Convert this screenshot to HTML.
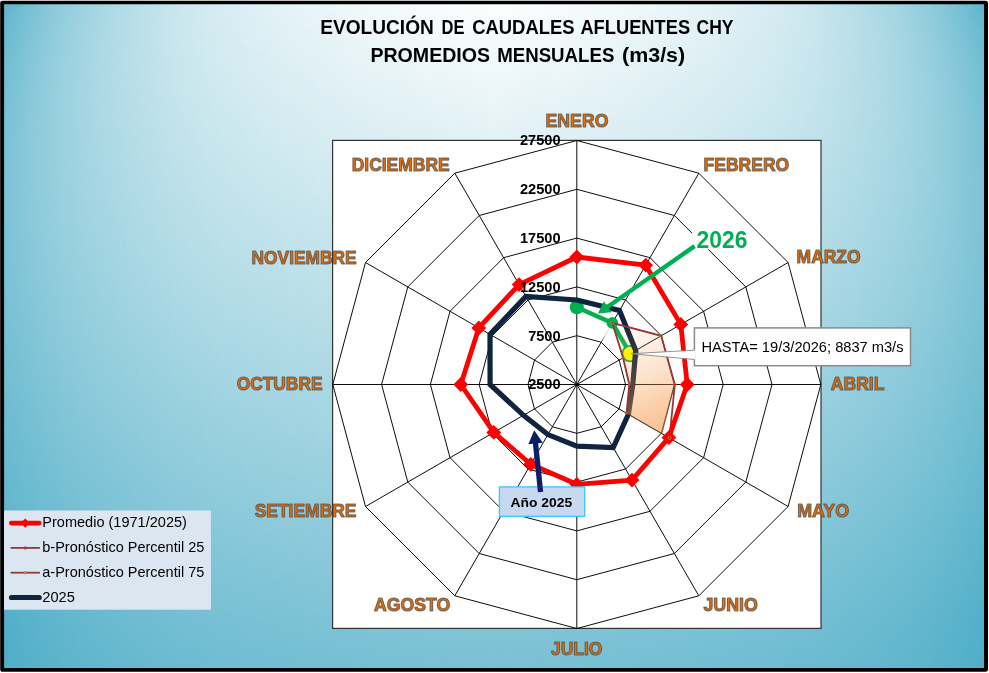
<!DOCTYPE html>
<html lang="es"><head><meta charset="utf-8"><title>Evolución de caudales afluentes CHY</title>
<style>
html,body{margin:0;padding:0;background:#fff}
body{width:989px;height:673px;overflow:hidden;position:relative;font-family:"Liberation Sans",sans-serif}
#b1,#b2{position:absolute;left:2px;top:2px;width:984px;height:668px}
#b1{background:linear-gradient(to bottom,#fff 0px,rgb(196,228,236) 300px,rgb(121,193,213) 673px);background-position:-2px -2px;background-size:989px 673px;background-repeat:no-repeat}
#b2{background:linear-gradient(to right,rgba(75,172,198,0.933) 0.0px,rgba(75,172,198,0.899) 6.2px,rgba(75,172,198,0.892) 7.4px,rgba(75,172,198,0.864) 12.4px,rgba(75,172,198,0.830) 18.5px,rgba(75,172,198,0.797) 24.7px,rgba(75,172,198,0.734) 37.1px,rgba(75,172,198,0.674) 49.4px,rgba(75,172,198,0.622) 61.8px,rgba(75,172,198,0.577) 74.2px,rgba(75,172,198,0.535) 86.5px,rgba(75,172,198,0.496) 98.9px,rgba(75,172,198,0.460) 111.3px,rgba(75,172,198,0.426) 123.6px,rgba(75,172,198,0.394) 136.0px,rgba(75,172,198,0.363) 148.4px,rgba(75,172,198,0.333) 160.7px,rgba(75,172,198,0.306) 173.1px,rgba(75,172,198,0.281) 185.4px,rgba(75,172,198,0.259) 197.8px,rgba(75,172,198,0.239) 210.2px,rgba(75,172,198,0.220) 222.5px,rgba(75,172,198,0.203) 234.9px,rgba(75,172,198,0.187) 247.2px,rgba(75,172,198,0.173) 259.6px,rgba(75,172,198,0.159) 272.0px,rgba(75,172,198,0.147) 284.3px,rgba(75,172,198,0.136) 296.7px,rgba(75,172,198,0.125) 309.1px,rgba(75,172,198,0.114) 321.4px,rgba(75,172,198,0.104) 333.8px,rgba(75,172,198,0.094) 346.1px,rgba(75,172,198,0.084) 358.5px,rgba(75,172,198,0.075) 370.9px,rgba(75,172,198,0.066) 383.2px,rgba(75,172,198,0.059) 395.6px,rgba(75,172,198,0.051) 408.0px,rgba(75,172,198,0.044) 420.3px,rgba(75,172,198,0.038) 432.7px,rgba(75,172,198,0.032) 445.1px,rgba(75,172,198,0.026) 457.4px,rgba(75,172,198,0.020) 469.8px,rgba(75,172,198,0.015) 482.1px,rgba(75,172,198,0.011) 494.5px,rgba(75,172,198,0.015) 506.9px,rgba(75,172,198,0.020) 519.2px,rgba(75,172,198,0.026) 531.6px,rgba(75,172,198,0.032) 544.0px,rgba(75,172,198,0.038) 556.3px,rgba(75,172,198,0.044) 568.7px,rgba(75,172,198,0.051) 581.0px,rgba(75,172,198,0.059) 593.4px,rgba(75,172,198,0.066) 605.8px,rgba(75,172,198,0.075) 618.1px,rgba(75,172,198,0.084) 630.5px,rgba(75,172,198,0.094) 642.9px,rgba(75,172,198,0.104) 655.2px,rgba(75,172,198,0.114) 667.6px,rgba(75,172,198,0.125) 679.9px,rgba(75,172,198,0.136) 692.3px,rgba(75,172,198,0.147) 704.7px,rgba(75,172,198,0.159) 717.0px,rgba(75,172,198,0.173) 729.4px,rgba(75,172,198,0.187) 741.8px,rgba(75,172,198,0.203) 754.1px,rgba(75,172,198,0.220) 766.5px,rgba(75,172,198,0.239) 778.8px,rgba(75,172,198,0.259) 791.2px,rgba(75,172,198,0.281) 803.6px,rgba(75,172,198,0.306) 815.9px,rgba(75,172,198,0.333) 828.3px,rgba(75,172,198,0.363) 840.6px,rgba(75,172,198,0.394) 853.0px,rgba(75,172,198,0.426) 865.4px,rgba(75,172,198,0.460) 877.7px,rgba(75,172,198,0.496) 890.1px,rgba(75,172,198,0.535) 902.5px,rgba(75,172,198,0.577) 914.8px,rgba(75,172,198,0.622) 927.2px,rgba(75,172,198,0.674) 939.5px,rgba(75,172,198,0.734) 951.9px,rgba(75,172,198,0.797) 964.3px,rgba(75,172,198,0.830) 970.5px,rgba(75,172,198,0.864) 976.6px,rgba(75,172,198,0.892) 981.6px,rgba(75,172,198,0.899) 982.8px,rgba(75,172,198,0.933) 989.0px);background-position:-2px 0;background-size:989px 100%;background-repeat:no-repeat;-webkit-mask-image:linear-gradient(to bottom,rgba(0,0,0,1.000) 0px,rgba(0,0,0,0.940) 24px,rgba(0,0,0,0.890) 48px,rgba(0,0,0,0.849) 72px,rgba(0,0,0,0.815) 96px,rgba(0,0,0,0.786) 120px,rgba(0,0,0,0.763) 144px,rgba(0,0,0,0.743) 168px,rgba(0,0,0,0.726) 192px,rgba(0,0,0,0.713) 216px,rgba(0,0,0,0.703) 240px,rgba(0,0,0,0.697) 264px,rgba(0,0,0,0.695) 288px,rgba(0,0,0,0.695) 312px,rgba(0,0,0,0.698) 336px,rgba(0,0,0,0.703) 360px,rgba(0,0,0,0.710) 384px,rgba(0,0,0,0.720) 408px,rgba(0,0,0,0.732) 432px,rgba(0,0,0,0.747) 456px,rgba(0,0,0,0.766) 480px,rgba(0,0,0,0.788) 504px,rgba(0,0,0,0.814) 528px,rgba(0,0,0,0.845) 552px,rgba(0,0,0,0.881) 576px,rgba(0,0,0,0.924) 600px,rgba(0,0,0,0.976) 624px,rgba(0,0,0,1.000) 648px,rgba(0,0,0,1.000) 672px,rgba(0,0,0,1.000) 673px);mask-image:linear-gradient(to bottom,rgba(0,0,0,1.000) 0px,rgba(0,0,0,0.940) 24px,rgba(0,0,0,0.890) 48px,rgba(0,0,0,0.849) 72px,rgba(0,0,0,0.815) 96px,rgba(0,0,0,0.786) 120px,rgba(0,0,0,0.763) 144px,rgba(0,0,0,0.743) 168px,rgba(0,0,0,0.726) 192px,rgba(0,0,0,0.713) 216px,rgba(0,0,0,0.703) 240px,rgba(0,0,0,0.697) 264px,rgba(0,0,0,0.695) 288px,rgba(0,0,0,0.695) 312px,rgba(0,0,0,0.698) 336px,rgba(0,0,0,0.703) 360px,rgba(0,0,0,0.710) 384px,rgba(0,0,0,0.720) 408px,rgba(0,0,0,0.732) 432px,rgba(0,0,0,0.747) 456px,rgba(0,0,0,0.766) 480px,rgba(0,0,0,0.788) 504px,rgba(0,0,0,0.814) 528px,rgba(0,0,0,0.845) 552px,rgba(0,0,0,0.881) 576px,rgba(0,0,0,0.924) 600px,rgba(0,0,0,0.976) 624px,rgba(0,0,0,1.000) 648px,rgba(0,0,0,1.000) 672px,rgba(0,0,0,1.000) 673px);-webkit-mask-position:0 -2px;mask-position:0 -2px;-webkit-mask-size:100% 673px;mask-size:100% 673px;-webkit-mask-repeat:no-repeat;mask-repeat:no-repeat}
svg{position:absolute;left:0;top:0}
text{font-family:"Liberation Sans",sans-serif}
.ax{font-size:14.6px;font-weight:bold;fill:#000}
.cat{font-size:18.7px;font-weight:bold;fill:#E8700A;stroke:#4a4644;stroke-opacity:.72;stroke-width:1.15px;stroke-linejoin:round}
.ttl{font-size:20.2px;font-weight:bold;fill:#000}
.t26{font-size:24px;font-weight:bold;fill:#00B050}
.a25{font-size:13.4px;font-weight:bold;fill:#000}
.co{font-size:14.6px;fill:#000}
.lg{font-size:14.6px;fill:#000}
</style></head><body>
<div id="b1"></div><div id="b2"></div>
<svg width="989" height="673" viewBox="0 0 989 673">
<path fill-rule="evenodd" fill="#000" d="M2.8 0.8 H985.6 Q988 0.8 988 3.2 V669.4 Q988 671.8 985.6 671.8 H2.8 Q0.2 671.8 0.2 669.4 V3.2 Q0.2 0.8 2.8 0.8 Z M4.1 4.2 V668 H984 V4.2 Z"/>
<rect x="332.6" y="140.4" width="488.4" height="488" fill="#fff" stroke="#333" stroke-width="1.2"/>
<path d="M576.8 335.7 L601.2 342.2 L619.1 360.1 L625.6 384.5 L619.1 408.9 L601.2 426.8 L576.8 433.3 L552.4 426.8 L534.5 408.9 L528.0 384.5 L534.5 360.1 L552.4 342.2 Z M576.8 286.9 L625.6 300.0 L661.3 335.7 L674.4 384.5 L661.3 433.3 L625.6 469.0 L576.8 482.1 L528.0 469.0 L492.3 433.3 L479.2 384.5 L492.3 335.7 L528.0 300.0 Z M576.8 238.1 L650.0 257.7 L703.6 311.3 L723.2 384.5 L703.6 457.7 L650.0 511.3 L576.8 530.9 L503.6 511.3 L450.0 457.7 L430.4 384.5 L450.0 311.3 L503.6 257.7 Z M576.8 189.3 L674.4 215.5 L745.8 286.9 L772.0 384.5 L745.8 482.1 L674.4 553.5 L576.8 579.7 L479.2 553.5 L407.8 482.1 L381.6 384.5 L407.8 286.9 L479.2 215.5 Z M576.8 140.5 L698.8 173.2 L788.1 262.5 L820.8 384.5 L788.1 506.5 L698.8 595.8 L576.8 628.5 L454.8 595.8 L365.5 506.5 L332.8 384.5 L365.5 262.5 L454.8 173.2 Z M576.8 384.5 L576.8 140.5 M576.8 384.5 L698.8 173.2 M576.8 384.5 L788.1 262.5 M576.8 384.5 L820.8 384.5 M576.8 384.5 L788.1 506.5 M576.8 384.5 L698.8 595.8 M576.8 384.5 L576.8 628.5 M576.8 384.5 L454.8 595.8 M576.8 384.5 L365.5 506.5 M576.8 384.5 L332.8 384.5 M576.8 384.5 L365.5 262.5 M576.8 384.5 L454.8 173.2" fill="none" stroke="#000" stroke-width=".95"/>
<defs><linearGradient id="wg" gradientUnits="userSpaceOnUse" x1="598" y1="314" x2="588" y2="340"><stop offset="0" stop-color="#fff" stop-opacity=".92"/><stop offset=".6" stop-color="#fff" stop-opacity=".8"/><stop offset="1" stop-color="#fff" stop-opacity="0"/></linearGradient></defs>
<path d="M579 308 L612 323 L621 352 L604 343 L583 336 Z" fill="url(#wg)"/>
<path d="M576.8 307.2 L612.3 322.9 L630.1 353.7" fill="none" stroke="#00B050" stroke-width="4.4" stroke-linejoin="round" stroke-linecap="round"/>
<circle cx="576.8" cy="307.2" r="7" fill="#00B050"/>
<circle cx="612.3" cy="322.9" r="5.8" fill="#00B050"/>
<circle cx="630.1" cy="353.7" r="7.75" fill="#FFFF00" stroke="#00B050" stroke-width="1.8"/>
<path d="M576.8 300.0 L619.5 310.5 L635.7 350.5 L632.8 384.5 L628.4 414.3 L613.2 447.5 L576.8 446.2 L547.9 434.6 L523.5 415.3 L490.1 384.5 L490.0 334.4 L525.9 296.4 Z" fill="none" stroke="#0F243E" stroke-width="5.2" stroke-linejoin="miter"/>
<defs><linearGradient id="og" gradientUnits="userSpaceOnUse" x1="612" y1="323" x2="665" y2="435"><stop offset="0" stop-color="#F79646" stop-opacity="0"/><stop offset=".5" stop-color="#F79646" stop-opacity=".27"/><stop offset=".75" stop-color="#F79646" stop-opacity=".46"/><stop offset="1" stop-color="#F79646" stop-opacity=".62"/></linearGradient></defs>
<path d="M612.3 322.9 L661.2 335.8 L674.8 384.5 L661.9 433.6 L626.6 413.2 L629.3 384.5 L623.1 357.8 Z" fill="url(#og)" stroke="#5a4030" stroke-width=".6"/>
<path d="M612.3 322.9 L661.2 335.8 L674.8 384.5 L669.5 438.0" fill="none" stroke="#953735" stroke-width="1.8"/>
<path d="M612.3 322.9 L623.1 357.8 L629.3 384.5 L626.6 413.2" fill="none" stroke="#953735" stroke-width="1.8"/>
<path d="M576.8 257.0 L645.7 265.2 L680.8 324.4 L687.2 384.5 L668.9 437.6 L632.0 480.1 L576.8 484.3 L530.7 464.3 L493.8 432.4 L460.8 384.5 L478.8 327.9 L519.1 284.6 Z" fill="none" stroke="#FF0000" stroke-width="4.8" stroke-linejoin="round"/>
<path d="M576.8 249.6 l7.4 7.4 l-7.4 7.4 l-7.4 -7.4 Z M645.7 257.8 l7.4 7.4 l-7.4 7.4 l-7.4 -7.4 Z M680.8 317.1 l7.4 7.4 l-7.4 7.4 l-7.4 -7.4 Z M687.2 377.1 l7.4 7.4 l-7.4 7.4 l-7.4 -7.4 Z M668.9 430.2 l7.4 7.4 l-7.4 7.4 l-7.4 -7.4 Z M632.0 472.7 l7.4 7.4 l-7.4 7.4 l-7.4 -7.4 Z M576.8 476.9 l7.4 7.4 l-7.4 7.4 l-7.4 -7.4 Z M530.7 456.9 l7.4 7.4 l-7.4 7.4 l-7.4 -7.4 Z M493.8 425.0 l7.4 7.4 l-7.4 7.4 l-7.4 -7.4 Z M460.8 377.1 l7.4 7.4 l-7.4 7.4 l-7.4 -7.4 Z M478.8 320.5 l7.4 7.4 l-7.4 7.4 l-7.4 -7.4 Z M519.1 277.2 l7.4 7.4 l-7.4 7.4 l-7.4 -7.4 Z" fill="#FF0000"/>
<circle cx="612.3" cy="322.9" r="1.4" fill="#D00000" stroke="#8DB04A" stroke-width=".8"/>
<circle cx="661.2" cy="335.8" r="1.4" fill="#D00000" stroke="#8DB04A" stroke-width=".8"/>
<circle cx="674.8" cy="384.5" r="1.4" fill="#D00000" stroke="#8DB04A" stroke-width=".8"/>
<circle cx="669.5" cy="438.0" r="1.4" fill="#D00000" stroke="#8DB04A" stroke-width=".8"/>
<circle cx="623.1" cy="357.8" r="1.3" fill="#C0504D"/>
<circle cx="629.3" cy="384.5" r="1.3" fill="#C0504D"/>
<circle cx="626.6" cy="413.2" r="1.3" fill="#C0504D"/>
<text x="560.6" y="389.4" text-anchor="end" class="ax">2500</text>
<text x="560.6" y="340.6" text-anchor="end" class="ax">7500</text>
<text x="560.6" y="291.8" text-anchor="end" class="ax">12500</text>
<text x="560.6" y="243.0" text-anchor="end" class="ax">17500</text>
<text x="560.6" y="194.2" text-anchor="end" class="ax">22500</text>
<text x="560.6" y="145.4" text-anchor="end" class="ax">27500</text>
<rect x="692" y="228" width="58" height="21.5" fill="#fff"/>
<path d="M693.4 244.3 L606.5 305.0 L603.9 301.2 L597.9 313.6 L611.6 312.2 L609.0 308.5 L695.8 247.9 Z" fill="#00B050"/>
<text x="696.6" y="247.6" class="t26" textLength="50.8" lengthAdjust="spacingAndGlyphs">2026</text>
<rect x="499.4" y="486.9" width="85.3" height="29.4" fill="#C6D9F1" stroke="#33CCFF" stroke-width="1.3"/>
<path d="M543.2 491.7 L538.2 443.3 L542.8 442.8 L534.2 430.3 L528.3 444.3 L532.9 443.8 L537.9 492.3 Z" fill="#0B1F64"/>
<text x="510.6" y="506.9" class="a25" textLength="61.6" lengthAdjust="spacingAndGlyphs">Año 2025</text>
<rect x="694.4" y="327.9" width="216.1" height="37.8" fill="#fff" stroke="#8A8A8A" stroke-width="1.5"/>
<path d="M695.2 350.2 L631.3 353.7 L695.2 359.5 Z" fill="#fff"/>
<path d="M694.4 350.2 L631.3 353.7 L694.4 359.5" fill="none" stroke="#8d857f" stroke-width=".9"/>
<text x="701.5" y="352" class="co" textLength="202" lengthAdjust="spacingAndGlyphs">HASTA= 19/3/2026; 8837 m3/s</text>
<text x="577.0" y="126.8" text-anchor="middle" class="cat" textLength="62.8" lengthAdjust="spacingAndGlyphs">ENERO</text>
<text x="703.6" y="170.8" text-anchor="start" class="cat" textLength="85.6" lengthAdjust="spacingAndGlyphs">FEBRERO</text>
<text x="796.6" y="263.2" text-anchor="start" class="cat" textLength="64.0" lengthAdjust="spacingAndGlyphs">MARZO</text>
<text x="830.8" y="390.3" text-anchor="start" class="cat" textLength="53.6" lengthAdjust="spacingAndGlyphs">ABRIL</text>
<text x="797.2" y="517.4" text-anchor="start" class="cat" textLength="52.0" lengthAdjust="spacingAndGlyphs">MAYO</text>
<text x="703.4" y="610.8" text-anchor="start" class="cat" textLength="54.5" lengthAdjust="spacingAndGlyphs">JUNIO</text>
<text x="576.7" y="654.7" text-anchor="middle" class="cat" textLength="51.3" lengthAdjust="spacingAndGlyphs">JULIO</text>
<text x="450.2" y="610.8" text-anchor="end" class="cat" textLength="76.2" lengthAdjust="spacingAndGlyphs">AGOSTO</text>
<text x="356.5" y="517.2" text-anchor="end" class="cat" textLength="101.8" lengthAdjust="spacingAndGlyphs">SETIEMBRE</text>
<text x="322.5" y="390.1" text-anchor="end" class="cat" textLength="85.8" lengthAdjust="spacingAndGlyphs">OCTUBRE</text>
<text x="356.6" y="263.6" text-anchor="end" class="cat" textLength="105.0" lengthAdjust="spacingAndGlyphs">NOVIEMBRE</text>
<text x="449.7" y="170.7" text-anchor="end" class="cat" textLength="98.0" lengthAdjust="spacingAndGlyphs">DICIEMBRE</text>
<text y="33.8" class="ttl"><tspan x="320.3" textLength="113.5" lengthAdjust="spacingAndGlyphs">EVOLUCIÓN</tspan> <tspan x="441.6" textLength="22.9" lengthAdjust="spacingAndGlyphs">DE</tspan> <tspan x="472.3" textLength="102.1" lengthAdjust="spacingAndGlyphs">CAUDALES</tspan> <tspan x="580.4" textLength="109.7" lengthAdjust="spacingAndGlyphs">AFLUENTES</tspan> <tspan x="696.5" textLength="37.0" lengthAdjust="spacingAndGlyphs">CHY</tspan></text>
<text y="61.6" class="ttl"><tspan x="370.4" textLength="119.7" lengthAdjust="spacingAndGlyphs">PROMEDIOS</tspan> <tspan x="497.2" textLength="117.2" lengthAdjust="spacingAndGlyphs">MENSUALES</tspan> <tspan x="622.0" textLength="63.2" lengthAdjust="spacingAndGlyphs">(m3/s)</tspan></text>
<rect x="4" y="510.5" width="206.9" height="99.2" fill="#DCE6F1"/>
<path d="M11.3 523.1 H39.2" stroke="#FF0000" stroke-width="4.8" stroke-linecap="round"/>
<path d="M25.2 518.5 l4.6 4.6 l-4.6 4.6 l-4.6 -4.6 Z" fill="#FF0000"/>
<path d="M10.6 547.9 H39.9" stroke="#953735" stroke-width="1.8"/>
<circle cx="25.2" cy="547.9" r="1.6" fill="#B03A38"/>
<path d="M10.6 572.7 H39.9" stroke="#953735" stroke-width="1.8"/>
<circle cx="25.2" cy="572.7" r="1.3" fill="#9BBB59" stroke="#C0504D" stroke-width=".6"/>
<path d="M11.5 597.5 H39.2" stroke="#0F243E" stroke-width="5.2" stroke-linecap="round"/>
<text x="42.3" y="527.4" class="lg" textLength="144.6" lengthAdjust="spacingAndGlyphs">Promedio (1971/2025)</text>
<text x="42.3" y="552.2" class="lg" textLength="162.0" lengthAdjust="spacingAndGlyphs">b-Pronóstico Percentil 25</text>
<text x="42.3" y="577.0" class="lg" textLength="162.0" lengthAdjust="spacingAndGlyphs">a-Pronóstico Percentil 75</text>
<text x="42.3" y="601.8" class="lg" textLength="32.5" lengthAdjust="spacingAndGlyphs">2025</text>
</svg>
</body></html>
